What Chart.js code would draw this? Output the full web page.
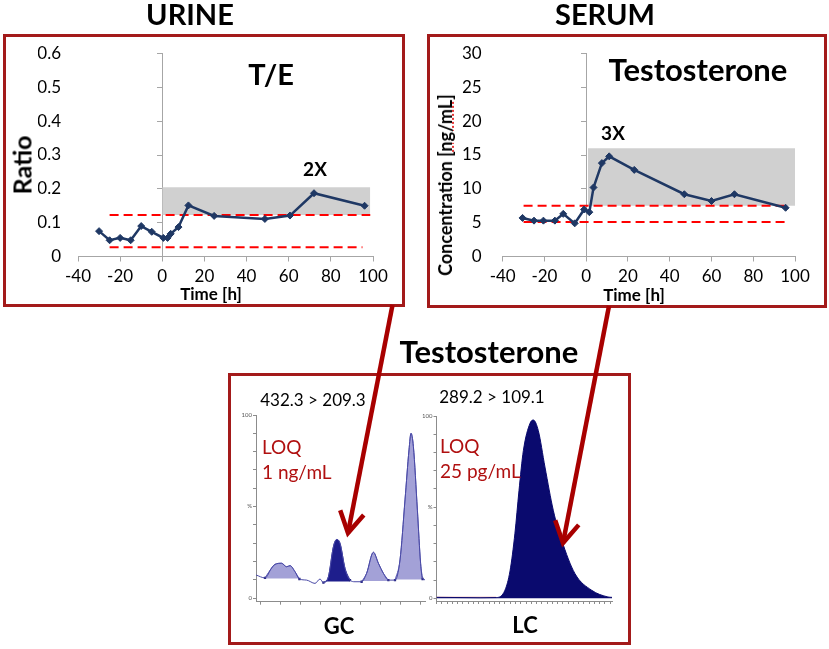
<!DOCTYPE html>
<html>
<head>
<meta charset="utf-8">
<script src="https://cdn.jsdelivr.net/npm/chart.js@4.4.1/dist/chart.umd.min.js"></script>
<style>
  html, body { margin: 0; padding: 0; background: #fff; }
  #page { position: relative; width: 829px; height: 649px; overflow: hidden; font-family: Lato, sans-serif; color: #000; }
  #page canvas { position: absolute; left: 0; top: 0; }
  .box { position: absolute; box-sizing: border-box; border: 3px solid #a31a1a; }
  .t { position: absolute; white-space: nowrap; line-height: 1; transform: translate(-50%, -50%); }
  .l { position: absolute; white-space: nowrap; line-height: 1; transform: translate(0, -50%); }
  .v { position: absolute; white-space: nowrap; line-height: 1; transform: translate(-50%, -50%) rotate(-90deg); }
  .b { font-weight: bold; }
  .red { color: #b01010; }
  .spell { text-decoration: underline dotted #e02020; }
  svg { position: absolute; left: 0; top: 0; }
</style>
</head>
<body>
<div id="page">
  <div class="box" style="left:3px;top:34px;width:402px;height:273px"></div>
  <div class="box" style="left:427px;top:34px;width:400px;height:274px"></div>
  <div class="box" style="left:228px;top:373px;width:403px;height:272px"></div>

  <canvas id="urine" width="829" height="649"></canvas>
  <canvas id="serum" width="829" height="649"></canvas>
  <canvas id="gc" width="829" height="649"></canvas>
  <canvas id="lc" width="829" height="649"></canvas>

  <div class="t b" style="left:190px;top:13px;font-size:29px">URINE</div>
  <div class="t b" style="left:605px;top:13px;font-size:29px">SERUM</div>
  <div class="t b" style="left:489px;top:351px;font-size:31px">Testosterone</div>

  <div class="t b" style="left:271px;top:73px;font-size:29px">T/E</div>
  <div class="t b" style="left:315px;top:168px;font-size:19px">2X</div>
  <div class="t b" style="left:211px;top:293px;font-size:17px">Time [h]</div>
  <div class="v b" style="left:22px;top:165px;font-size:25px">Ratio</div>

  <div class="t b" style="left:698px;top:69px;font-size:31px">Testosterone</div>
  <div class="t b" style="left:613px;top:132px;font-size:19px">3X</div>
  <div class="t b" style="left:634px;top:294px;font-size:17px">Time [h]</div>
  <div class="v b" style="left:445px;top:185px;font-size:18px">Concentration [<span class="spell">ng/mL</span>]</div>

  <div class="t" style="left:313px;top:399px;font-size:17px">432.3 &gt; 209.3</div>
  <div class="l red" style="left:262px;top:446px;font-size:19px">LOQ</div>
  <div class="l red" style="left:262px;top:471px;font-size:19px">1 ng/mL</div>
  <div class="t b" style="left:339px;top:626px;font-size:22px">GC</div>

  <div class="t" style="left:492px;top:396px;font-size:17px">289.2 &gt; 109.1</div>
  <div class="l red" style="left:440px;top:445px;font-size:19px">LOQ</div>
  <div class="l red" style="left:440px;top:470px;font-size:19px">25 pg/mL</div>
  <div class="t b" style="left:525px;top:625px;font-size:22px">LC</div>

  <svg id="arrows" width="829" height="649"></svg>
</div>

<script>
// urine T/E ratio over time
const urineTime  = [-30, -25, -20, -15, -10, -5, 0.5, 2.5, 4, 7.7, 12.4, 24.6, 48.7, 60.6, 72, 96];
const urineRatio = [0.075, 0.048, 0.055, 0.048, 0.09, 0.073, 0.055, 0.055, 0.067, 0.087, 0.151, 0.12, 0.111, 0.121, 0.187, 0.15];
const urineUpper = [[-25, 0.123], [98.7, 0.123]];
const urineLower = [[-25, 0.027], [95, 0.027]];
const urineBand  = { from: 0, to: 98.7, low: 0.123, high: 0.205 };

// serum testosterone concentration over time
const serumTime = [-30.5, -25, -20.5, -15, -11, -5.5, -1, 1.5, 3.5, 7.5, 11, 23, 47, 60, 71, 95.5];
const serumConc = [5.7, 5.3, 5.3, 5.3, 6.3, 4.9, 6.95, 6.55, 10.2, 13.8, 14.8, 12.8, 9.2, 8.2, 9.2, 7.2];
const serumUpper = [[-30, 7.5], [97, 7.5]];
const serumLower = [[-30, 5.1], [96, 5.1]];
const serumBand  = { from: 0.8, to: 100, low: 7.5, high: 16 };

// GC chromatogram (retention in arbitrary units, intensity in %)
const gcTime   = [-0.2, 0.25, 0.58, 0.75, 1.08, 1.33, 1.5, 1.75, 1.97, 2.33, 2.75, 3.0, 3.17, 3.42, 3.67, 3.83, 4.0, 4.25, 4.5, 4.75,
                  5.08, 5.33, 5.67, 5.92, 6.17, 6.42, 6.75, 7.0, 7.25, 7.45, 7.55, 7.67, 7.87, 8.03, 8.13, 8.25];
const gcSignal = [12.6, 11, 16.4, 18.4, 19, 17.1, 17.7, 14.4, 10.4, 9.8, 8, 10.4, 8.4, 11.6, 28, 32, 29.9, 16.2, 9.8, 8.9,
                  8.9, 13.5, 25, 19, 13.5, 9.8, 9.8, 20.8, 53.6, 80.9, 90, 82.7, 48, 19, 10.4, 10];
// integrated peaks: [first index, last index, analyte?]
const gcPeaks  = [[1, 8, false], [12, 18, true], [20, 25, false], [26, 34, false]];

// LC chromatogram
const lcTime   = [0, 24.8, 34.3, 39, 41.9, 44.7, 47, 49.5, 53.3, 55.2, 58, 61.8, 66.6, 71.3, 78.9, 88.4, 97.7, 100];
const lcSignal = [0.5, 0.3, 0.4, 4.4, 15, 35.7, 59, 81, 96, 97.8, 92, 72, 48, 32, 13.5, 4.4, 0.7, 0.5];
const lcBlankTime   = [0, 34];
const lcBlankSignal = [0.6, 0.6];

const NAVY = '#1f3864';
const AXIS = '#a6a6a6';
const W = 829, H = 649;

Chart.defaults.font.family = 'Lato, sans-serif';
Chart.defaults.color = '#000';

function xy(xs, ys) {
    return xs.map((x, i) => ({ x: x, y: ys[i] }));
}
function pairs(p) {
    return p.map(v => ({ x: v[0], y: v[1] }));
}

// padding so that the plot area lands on the given rectangle
function place(left, top, right, bottom, yw, xh) {
    return { left: left - yw, top: top, right: W - right, bottom: H - bottom - xh };
}

function courseChart(id, series, upper, lower, band, yMax, yStep, labelPad, area) {
    return new Chart(document.getElementById(id), {
        type: 'line',
        data: {
            datasets: [{
                data: series,
                borderColor: NAVY,
                backgroundColor: NAVY,
                borderWidth: 2.5,
                pointStyle: 'rectRot',
                pointRadius: 3.5,
                pointBorderWidth: 1
            }, {
                data: pairs(upper),
                borderColor: '#ff0000',
                borderDash: [9, 5],
                borderWidth: 2,
                pointRadius: 0
            }, {
                data: pairs(lower),
                borderColor: '#ff0000',
                borderDash: [9, 5],
                borderWidth: 2,
                pointRadius: 0
            }, {
                data: [{ x: band.from, y: band.high }, { x: band.to, y: band.high }],
                borderWidth: 0,
                pointRadius: 0,
                backgroundColor: '#d0d0d0',
                fill: { value: band.low }
            }]
        },
        options: {
            responsive: false,
            animation: false,
            events: [],
            layout: { padding: area },
            plugins: { legend: { display: false }, tooltip: { enabled: false } },
            scales: {
                x: {
                    type: 'linear',
                    min: -40,
                    max: 100,
                    ticks: { stepSize: 20, padding: 5, font: { size: 17 }, color: '#000' },
                    grid: { drawOnChartArea: false, tickLength: 5, color: AXIS },
                    border: { color: AXIS },
                    afterFit: s => { s.height = 40; }
                },
                y: {
                    min: 0,
                    max: yMax,
                    ticks: { stepSize: yStep, padding: labelPad, font: { size: 17 }, color: '#000' },
                    grid: { display: false, drawTicks: false },
                    border: { display: false },
                    afterFit: s => { s.width = 40; }
                },
                yAxis: {
                    axis: 'y',
                    position: { x: 0 },
                    min: 0,
                    max: yMax,
                    ticks: { display: false, stepSize: yStep },
                    grid: { drawOnChartArea: false, tickLength: 5, color: AXIS },
                    border: { color: AXIS },
                    afterFit: s => { s.width = 0; }
                }
            }
        }
    });
}

courseChart('urine', xy(urineTime, urineRatio), urineUpper, urineLower, urineBand,
    0.6, 0.1, 17, place(78, 53.5, 373, 256.5, 40, 40));
courseChart('serum', xy(serumTime, serumConc), serumUpper, serumLower, serumBand,
    30, 5, 21, place(502.7, 53.5, 795, 256.5, 40, 40));

function chromChart(id, datasets, xMin, xMax, xStep, yMin, area) {
    return new Chart(document.getElementById(id), {
        type: 'line',
        data: { datasets: datasets },
        options: {
            responsive: false,
            animation: false,
            events: [],
            layout: { padding: area },
            plugins: { legend: { display: false }, tooltip: { enabled: false } },
            scales: {
                x: {
                    type: 'linear',
                    min: xMin,
                    max: xMax,
                    ticks: { display: false, stepSize: xStep, includeBounds: false },
                    grid: { drawOnChartArea: false, tickLength: 3, color: '#8c8c8c' },
                    border: { color: '#8c8c8c' },
                    afterFit: s => { s.height = 5; }
                },
                y: {
                    min: yMin,
                    max: 100,
                    ticks: {
                        stepSize: 10,
                        includeBounds: false,
                        padding: 1,
                        font: { size: 6 },
                        color: '#555',
                        callback: v => v === 100 ? '100' : v === 50 ? '%' : v === 0 ? '0' : ''
                    },
                    grid: { drawOnChartArea: false, tickLength: 3, color: '#8c8c8c' },
                    border: { color: '#8c8c8c' },
                    afterFit: s => { s.width = 14; }
                }
            }
        }
    });
}

const gcData = xy(gcTime, gcSignal);
const gcSets = [{
    data: gcData,
    borderColor: '#4a4aa6',
    borderWidth: 1,
    pointRadius: 0,
    cubicInterpolationMode: 'monotone'
}];
gcPeaks.forEach(p => {
    const seg = gcData.slice(p[0], p[1] + 1);
    gcSets.push({
        data: seg,
        borderColor: p[2] ? '#1e1e8c' : '#6060b4',
        borderWidth: 1,
        backgroundColor: p[2] ? '#1e1e8c' : 'rgba(140,138,205,0.8)',
        fill: { value: (seg[0].y + seg[seg.length - 1].y) / 2 },
        cubicInterpolationMode: 'monotone',
        pointStyle: 'rect',
        pointBackgroundColor: '#24247e',
        pointBorderWidth: 0,
        pointRadius: c => (c.dataIndex === 0 || c.dataIndex === seg.length - 1) ? 1.6 : 0
    });
});
chromChart('gc', gcSets, -0.2, 8.25, 1, -2, place(256, 415, 425, 601.7, 14, 5));

chromChart('lc', [{
    data: xy(lcTime, lcSignal),
    borderColor: '#0a0a6e',
    borderWidth: 1,
    backgroundColor: '#0a0a6e',
    fill: 'origin',
    pointRadius: 0,
    cubicInterpolationMode: 'monotone'
}, {
    data: xy(lcBlankTime, lcBlankSignal),
    borderColor: '#e8a6a6',
    borderWidth: 1,
    pointRadius: 0
}], 0, 100, 3, -1.5, place(436.5, 416, 612, 601, 14, 5));

// arrows from the time courses down to the chromatograms
const arrows = [
    { from: [392.5, 305], to: [348, 533] },
    { from: [609, 306], to: [563, 543] }
];
const svg = document.getElementById('arrows');
const NS = 'http://www.w3.org/2000/svg';
arrows.forEach(a => {
    const dx = a.from[0] - a.to[0], dy = a.from[1] - a.to[1];
    const ang = Math.atan2(dy, dx);
    const len = 24, spread = Math.PI / 6;
    const w1 = [a.to[0] + len * Math.cos(ang + spread), a.to[1] + len * Math.sin(ang + spread)];
    const w2 = [a.to[0] + len * Math.cos(ang - spread), a.to[1] + len * Math.sin(ang - spread)];
    const shaft = document.createElementNS(NS, 'line');
    shaft.setAttribute('x1', a.from[0]);
    shaft.setAttribute('y1', a.from[1]);
    shaft.setAttribute('x2', a.to[0]);
    shaft.setAttribute('y2', a.to[1]);
    shaft.setAttribute('stroke', '#a80000');
    shaft.setAttribute('stroke-width', 4.5);
    svg.appendChild(shaft);
    const head = document.createElementNS(NS, 'polyline');
    head.setAttribute('points', w1.join(',') + ' ' + a.to.join(',') + ' ' + w2.join(','));
    head.setAttribute('fill', 'none');
    head.setAttribute('stroke', '#a80000');
    head.setAttribute('stroke-width', 4.5);
    head.setAttribute('stroke-linejoin', 'miter');
    svg.appendChild(head);
});
</script>
</body>
</html>
